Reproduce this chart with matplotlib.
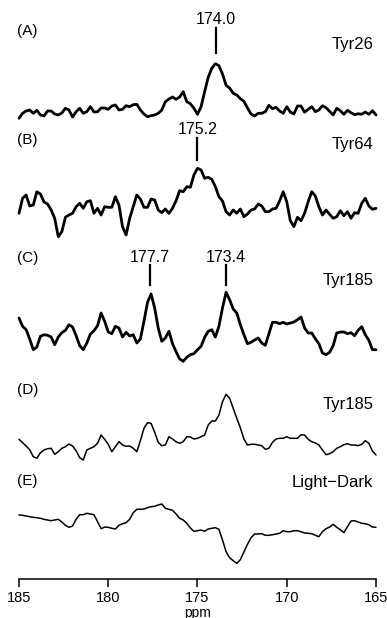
import matplotlib
matplotlib.use("Agg")
import matplotlib.pyplot as plt

plt.rcParams['font.family'] = ['Liberation Sans', 'DejaVu Sans']

# chemical shift grid (ppm), 185 -> 165 in 0.2 ppm steps
ppm = [185.0, 184.8, 184.6, 184.4, 184.2, 184.0, 183.8, 183.6, 183.4, 183.2,
       183.0, 182.8, 182.6, 182.4, 182.2, 182.0, 181.8, 181.6, 181.4, 181.2,
       181.0, 180.8, 180.6, 180.4, 180.2, 180.0, 179.8, 179.6, 179.4, 179.2,
       179.0, 178.8, 178.6, 178.4, 178.2, 178.0, 177.8, 177.6, 177.4, 177.2,
       177.0, 176.8, 176.6, 176.4, 176.2, 176.0, 175.8, 175.6, 175.4, 175.2,
       175.0, 174.8, 174.6, 174.4, 174.2, 174.0, 173.8, 173.6, 173.4, 173.2,
       173.0, 172.8, 172.6, 172.4, 172.2, 172.0, 171.8, 171.6, 171.4, 171.2,
       171.0, 170.8, 170.6, 170.4, 170.2, 170.0, 169.8, 169.6, 169.4, 169.2,
       169.0, 168.8, 168.6, 168.4, 168.2, 168.0, 167.8, 167.6, 167.4, 167.2,
       167.0, 166.8, 166.6, 166.4, 166.2, 166.0, 165.8, 165.6, 165.4, 165.2,
       165.0]

trace_a = [1.7, 6.7, 9.0, 10.0, 6.7, 9.7, 5.0, 4.0, 9.0, 9.0,
           6.0, 5.0, 7.0, 11.7, 10.0, 3.0, 8.3, 11.7, 6.7, 8.3,
           13.3, 8.0, 8.3, 12.0, 12.0, 10.7, 14.0, 15.0, 10.0, 10.7,
           14.3, 13.3, 15.3, 15.7, 10.0, 6.0, 3.3, 4.3, 5.0, 6.7,
           10.0, 18.3, 21.0, 23.0, 20.7, 23.0, 28.3, 18.3, 16.3, 11.7,
           5.7, 13.3, 28.3, 42.7, 51.7, 56.3, 54.3, 46.0, 34.7, 32.0,
           26.7, 25.0, 21.3, 18.7, 12.0, 6.0, 4.0, 6.7, 6.7, 8.3,
           14.7, 11.3, 12.7, 9.0, 6.7, 13.3, 8.0, 6.0, 14.0, 14.0,
           7.7, 10.7, 13.3, 8.3, 10.0, 14.3, 12.3, 8.7, 5.0, 11.7,
           9.3, 5.7, 9.7, 7.3, 5.3, 6.3, 5.7, 8.0, 5.7, 9.3,
           5.0]

trace_b = [31.7, 46.7, 50.0, 39.0, 40.0, 53.3, 51.0, 43.0, 41.0, 35.0,
           26.7, 8.3, 13.3, 27.7, 30.0, 31.7, 38.3, 41.7, 36.7, 43.3,
           44.3, 31.7, 36.7, 30.0, 38.3, 37.7, 37.7, 48.3, 40.0, 18.3,
           10.0, 26.7, 38.3, 50.0, 46.0, 37.7, 37.7, 46.0, 45.0, 35.0,
           32.3, 36.0, 31.7, 36.7, 44.3, 54.3, 53.3, 58.3, 57.7, 70.0,
           76.7, 75.0, 66.7, 67.7, 65.7, 58.3, 48.3, 44.0, 33.3, 30.0,
           35.0, 31.7, 36.0, 28.3, 31.0, 35.0, 36.0, 41.0, 39.0, 33.3,
           33.3, 36.0, 36.7, 44.0, 53.3, 43.3, 24.3, 18.3, 27.7, 24.3,
           31.7, 43.3, 53.3, 49.0, 38.3, 30.0, 35.0, 30.7, 26.7, 28.3,
           34.3, 29.3, 33.3, 26.7, 32.3, 31.7, 41.7, 46.7, 39.0, 35.7,
           36.7]

trace_c = [45.0, 36.7, 33.3, 24.0, 13.3, 16.0, 26.7, 28.3, 27.7, 26.0,
           18.3, 26.0, 30.3, 32.7, 38.3, 36.0, 27.3, 17.3, 13.3, 20.0,
           29.0, 32.3, 37.3, 50.0, 41.7, 31.0, 29.3, 36.7, 35.0, 26.0,
           30.7, 27.0, 28.3, 20.0, 24.0, 41.7, 60.7, 69.0, 55.0, 35.0,
           21.7, 25.0, 31.7, 19.3, 11.3, 4.0, 1.7, 5.7, 8.3, 9.3,
           13.3, 16.7, 25.7, 31.7, 33.3, 26.0, 36.7, 55.0, 70.7, 63.3,
           54.0, 50.0, 38.3, 28.3, 19.3, 20.7, 23.0, 25.0, 20.0, 17.7,
           29.3, 40.7, 40.7, 39.3, 40.7, 39.0, 40.0, 41.0, 43.3, 46.0,
           35.0, 30.0, 30.0, 24.3, 19.3, 10.0, 8.3, 10.7, 17.3, 30.0,
           31.0, 31.0, 29.3, 30.3, 27.3, 32.7, 36.3, 28.3, 22.7, 13.3,
           13.3]

trace_d = [25.7, 22.3, 19.0, 15.3, 8.3, 6.7, 12.3, 15.0, 16.3, 16.7,
           10.7, 13.3, 16.7, 18.3, 21.0, 19.0, 14.3, 7.3, 5.0, 15.0,
           16.7, 18.3, 21.7, 30.0, 25.7, 20.7, 13.3, 18.3, 23.3, 20.0,
           18.7, 19.0, 16.7, 13.3, 24.3, 36.7, 42.3, 41.7, 32.7, 22.7,
           19.3, 20.0, 28.3, 26.0, 23.3, 21.7, 23.3, 28.3, 28.0, 26.0,
           26.7, 28.3, 30.0, 40.0, 44.0, 44.0, 50.0, 63.3, 70.7, 66.7,
           56.7, 46.7, 37.3, 26.0, 20.0, 20.7, 20.7, 20.0, 19.3, 15.7,
           16.7, 22.7, 26.0, 26.7, 26.7, 28.3, 26.7, 26.7, 26.7, 30.3,
           30.0, 25.7, 23.3, 22.0, 20.0, 15.0, 10.3, 11.3, 13.3, 16.7,
           18.3, 20.3, 21.3, 20.0, 20.0, 19.3, 20.7, 24.3, 21.7, 14.0,
           10.0]

trace_e = [50.0, 49.7, 49.0, 48.3, 47.7, 47.3, 46.7, 45.7, 45.0, 44.3,
           45.0, 45.7, 43.0, 39.7, 37.7, 39.0, 45.7, 50.3, 50.3, 51.7,
           51.0, 50.3, 43.3, 36.3, 38.0, 37.7, 36.7, 36.0, 39.7, 41.3,
           42.3, 45.7, 52.3, 55.7, 55.7, 56.0, 57.3, 58.3, 58.7, 60.0,
           61.0, 56.7, 55.7, 54.7, 51.0, 46.7, 45.0, 41.7, 37.0, 33.7,
           34.3, 35.0, 33.7, 36.0, 36.7, 37.3, 35.7, 25.0, 13.3, 7.3,
           4.3, 1.7, 5.3, 13.0, 20.7, 27.3, 31.0, 31.0, 31.3, 29.7,
           29.7, 30.3, 31.0, 31.7, 34.3, 33.3, 33.3, 34.3, 34.3, 33.3,
           32.0, 31.7, 31.3, 29.7, 28.3, 33.3, 36.3, 38.0, 40.7, 37.7,
           35.3, 32.3, 38.3, 44.0, 44.3, 43.0, 41.7, 41.3, 40.3, 38.0,
           37.7]

panel_letters = ["(A)", "(B)", "(C)", "(D)", "(E)"]
panel_names = ["Tyr26", "Tyr64", "Tyr185", "Tyr185", "Light\u2212Dark"]
peak_ppm = [[174.0], [175.2], [177.7, 173.4], [], []]
peak_text = [["174.0"], ["175.2"], ["177.7", "173.4"], [], []]
x_ticks = [185, 180, 175, 170, 165]

traces = [trace_a, trace_b, trace_c, trace_d, trace_e]

# layout (pixel units above the bottom axis line)
W, H = 387, 618
axis_px = 579
offsets = [459, 334, 216, 114, 14]
widths = [2.0, 2.0, 2.0, 1.1, 1.1]
letter_y = [548, 439, 321, 189, 98]
name_y = [535, 435, 299, 174, 97]
label_y = [560, 450, 322]
mark_span = [(526, 551), (419, 441), (294, 314)]
mark_shift = [[-0.05], [-0.2], [-0.05, 0.0]]

fig = plt.figure(figsize=(W / 100, H / 100), dpi=100)
ax = fig.add_axes([19 / W, (H - axis_px) / H, 357 / W, axis_px / H])
ax.set_xlim(185, 165)
ax.set_ylim(0, axis_px)

for tr, off, lw in zip(traces, offsets, widths):
    ax.plot(ppm, [v + off for v in tr], color='black', lw=lw,
            solid_joinstyle='round', solid_capstyle='round', clip_on=False)

for i, t in enumerate(panel_letters):
    ax.text(185.1, letter_y[i], t, fontsize=11, ha='left', va='center')
for i, t in enumerate(panel_names):
    ax.text(165.15, name_y[i], t, fontsize=12, ha='right', va='center')

# peak markers
for k in range(3):
    for j, xp in enumerate(peak_ppm[k]):
        xm = xp + mark_shift[k][j]
        ax.plot([xm, xm], mark_span[k], color='black', lw=1.6, clip_on=False)
        ax.text(xm, label_y[k], peak_text[k][j], fontsize=11.5,
                ha='center', va='center')

for s in ['top', 'left', 'right']:
    ax.spines[s].set_visible(False)
ax.spines['bottom'].set_linewidth(1.1)
ax.set_yticks([])
ax.set_xticks(x_ticks)
ax.set_xticklabels([str(t) for t in x_ticks], fontsize=10.5)
ax.tick_params(axis='x', direction='out', length=6, width=1.1, pad=3)
ax.set_xlabel('ppm', fontsize=10, labelpad=0)

fig.savefig('out.png', dpi=100)
